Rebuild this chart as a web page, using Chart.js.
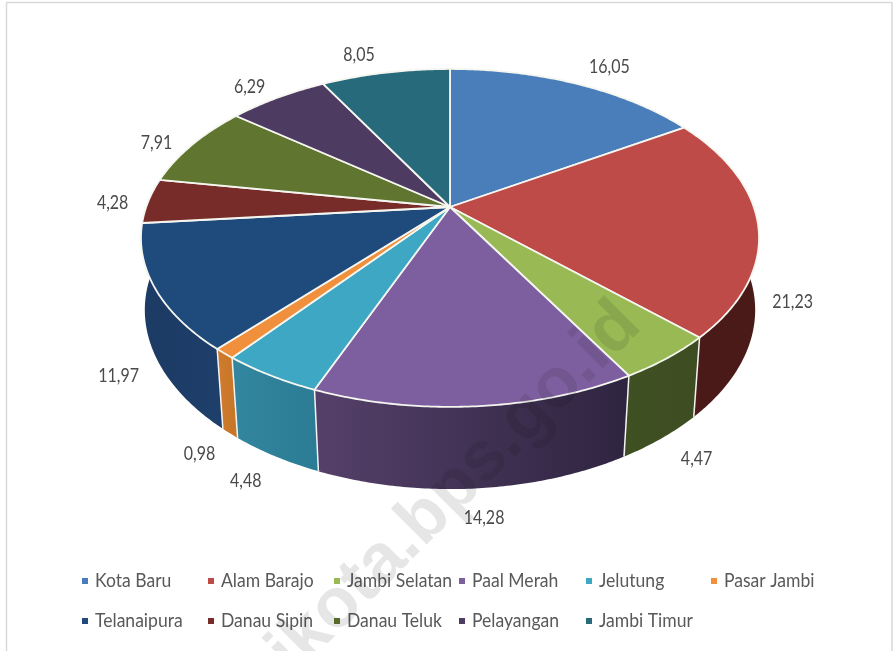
<!DOCTYPE html>
<html>
<head>
<meta charset="utf-8">
<title>Kecamatan Kota Jambi</title>
<style>
    html, body { margin: 0; padding: 0; background: #fff; }
    #wrap { width: 894px; height: 651px; }
    #chart { filter: blur(0.4px); }
</style>
<script src="https://cdn.jsdelivr.net/npm/chart.js@4"></script>
</head>
<body>
<div id="wrap"><canvas id="chart" width="894" height="651"></canvas></div>
<script>
const kecamatan = ["Kota Baru", "Alam Barajo", "Jambi Selatan", "Paal Merah", "Jelutung", "Pasar Jambi",
    "Telanaipura", "Danau Sipin", "Danau Teluk", "Pelayangan", "Jambi Timur"];
const persen = [16.05, 21.23, 4.47, 14.28, 4.48, 0.98, 11.97, 4.28, 7.91, 6.29, 8.05];

const warnaAtas = ["#4a7ebb", "#be4b48", "#98b954", "#7d5fa0", "#3ea7c4", "#f0903c",
    "#1f4a7c", "#772c2a", "#5f7530", "#4d3b62", "#276a7c"];
const warnaSisiKiri = ["#2c4a70", "#5a201d", "#3f5023", "#554069", "#33869f", "#d07c2e",
    "#1c3c66", "#4d1c1a", "#3f5023", "#33273f", "#194652"];
const warnaSisiKanan = ["#2c4a70", "#4a1a18", "#3d4d21", "#2e2440", "#2b7c94", "#c87628",
    "#1e3f6a", "#4d1c1a", "#3f5023", "#33273f", "#194652"];

// perspektif tutup dan alas, dalam piksel
const TUTUP = { a: 303.8, b: 163.3, kx: 0.183, ky: 0.183, y0: 207 };
const ALAS = { a: 301, b: 170, kx: 0.165, ky: 0.183, y0: 281 };

// geser label dari posisi radial
const geserLabel = [[20, -5], [7, 1], [10, 2], [6, 3], [-9, 3], [-5, 2], [-10, 1], [0, 3], [-7, 5], [-10, 0], [-20, -5]];
const posisiLabel = [1.12, 1.1, 1.1, 1.1, 1.1, 1.1, 1.1, 1.12, 1.12, 1.12, 1.12];

const legendaX = [82, 208, 334, 459, 586, 711];
const legendaY = [581, 621];

function proyeksi(p, cx, sudut, skala) {
    const X = Math.cos(sudut) * (skala || 1);
    const Y = -Math.sin(sudut) * (skala || 1);
    return { x: cx + p.a * X / (1 + p.kx * Y), y: p.y0 - p.b * Y / (1 + p.ky * Y) };
}

function jalurBusur(ctx, p, cx, a0, a1) {
    const n = Math.max(2, Math.ceil(Math.abs(a1 - a0) / 0.01));
    for (let i = 0; i <= n; i++) {
        const t = proyeksi(p, cx, a0 + (a1 - a0) * i / n);
        ctx.lineTo(t.x, t.y);
    }
}

// huruf aslinya lebih sempit dari Lato
function teksSempit(ctx, teks, x, y, lebar) {
    ctx.save();
    ctx.translate(x, y);
    ctx.scale(lebar, 1);
    ctx.fillText(teks, 0, 0);
    ctx.restore();
}

const pie3d = {
    id: "pie3d",
    beforeDatasetDraw(chart) {
        const ctx = chart.ctx;
        const arcs = chart.getDatasetMeta(0).data;

        // dinding samping, irisan belakang tidak kelihatan
        arcs.forEach((arc, i) => {
            const tengah = (arc.startAngle + arc.endAngle) / 2;
            if (Math.sin(tengah) < 0) return;
            // dinding paling kiri ditarik sampai tepi
            const akhir = arc.endAngle > 2.8 ? Math.max(arc.endAngle, Math.PI + 0.2) : arc.endAngle;
            const a = proyeksi(TUTUP, arc.x, arc.startAngle);
            const b = proyeksi(TUTUP, arc.x, akhir);
            const g = ctx.createLinearGradient(Math.min(a.x, b.x), 0, Math.max(a.x, b.x) + 1, 0);
            g.addColorStop(0, warnaSisiKiri[i]);
            g.addColorStop(1, warnaSisiKanan[i]);
            ctx.beginPath();
            jalurBusur(ctx, TUTUP, arc.x, arc.startAngle, akhir);
            jalurBusur(ctx, ALAS, arc.x, akhir, arc.startAngle);
            ctx.closePath();
            ctx.fillStyle = g;
            ctx.fill();
        });

        // garis putih antar dinding, hanya di sisi depan
        ctx.strokeStyle = "#f4f4f4";
        ctx.lineWidth = 1.5;
        arcs.forEach((arc) => {
            if (Math.sin(arc.startAngle) <= 0.15) return;
            const a = proyeksi(TUTUP, arc.x, arc.startAngle);
            const b = proyeksi(ALAS, arc.x, arc.startAngle);
            ctx.beginPath();
            ctx.moveTo(a.x, a.y);
            ctx.lineTo(b.x, b.y);
            ctx.stroke();
        });

        // permukaan atas
        arcs.forEach((arc, i) => {
            ctx.beginPath();
            ctx.moveTo(arc.x, TUTUP.y0);
            jalurBusur(ctx, TUTUP, arc.x, arc.startAngle, arc.endAngle);
            ctx.closePath();
            ctx.fillStyle = warnaAtas[i];
            ctx.fill();
            ctx.strokeStyle = "#f6f6f0";
            ctx.lineWidth = 1.8;
            ctx.lineJoin = "round";
            ctx.stroke();
        });
        return false;
    },
    afterDraw(chart) {
        const ctx = chart.ctx;
        const arcs = chart.getDatasetMeta(0).data;
        ctx.save();

        // bingkai
        ctx.strokeStyle = "#d9d9d9";
        ctx.lineWidth = 1.5;
        ctx.beginPath();
        ctx.moveTo(6.5, 651);
        ctx.lineTo(6.5, 2.5);
        ctx.lineTo(892, 2.5);
        ctx.lineTo(892, 651);
        ctx.stroke();

        // label nilai
        ctx.fillStyle = "#4a4a4a";
        ctx.font = "19.5px Lato";
        ctx.textAlign = "center";
        ctx.textBaseline = "middle";
        arcs.forEach((arc, i) => {
            const tengah = (arc.startAngle + arc.endAngle) / 2;
            const depan = Math.sin(tengah) > 0.1;
            const p = proyeksi(depan ? ALAS : TUTUP, arc.x, tengah, posisiLabel[i]);
            const teks = persen[i].toFixed(2).replace(".", ",");
            teksSempit(ctx, teks, p.x + geserLabel[i][0], p.y + geserLabel[i][1], 0.82);
        });

        // legenda, dua baris enam kolom
        ctx.font = "19.5px Lato";
        ctx.textAlign = "left";
        kecamatan.forEach((nama, i) => {
            const x = legendaX[i % 6];
            const y = legendaY[Math.floor(i / 6)];
            ctx.fillStyle = warnaAtas[i];
            ctx.fillRect(x, y - 3, 6, 6);
            ctx.fillStyle = "#595959";
            teksSempit(ctx, nama, x + 13, y, 0.9);
        });

        // watermark
        ctx.globalCompositeOperation = "multiply";
        ctx.translate(294, 677);
        ctx.rotate(-Math.PI / 4);
        ctx.font = "bold 70px 'Liberation Sans'";
        ctx.textBaseline = "alphabetic";
        ctx.fillStyle = "#e6e6e6";
        ctx.fillText("ikota.bps.go.id", 0, 0);
        ctx.restore();
    },
};

const chart = new Chart(document.getElementById("chart"), {
    type: "pie",
    data: {
        labels: kecamatan,
        datasets: [{
            data: persen,
            backgroundColor: warnaAtas,
        }],
    },
    options: {
        responsive: false,
        animation: false,
        layout: { padding: { left: 6, bottom: 237 } },
        plugins: {
            legend: { display: false },
            tooltip: { enabled: false },
        },
    },
    plugins: [pie3d],
});
</script>
</body>
</html>
